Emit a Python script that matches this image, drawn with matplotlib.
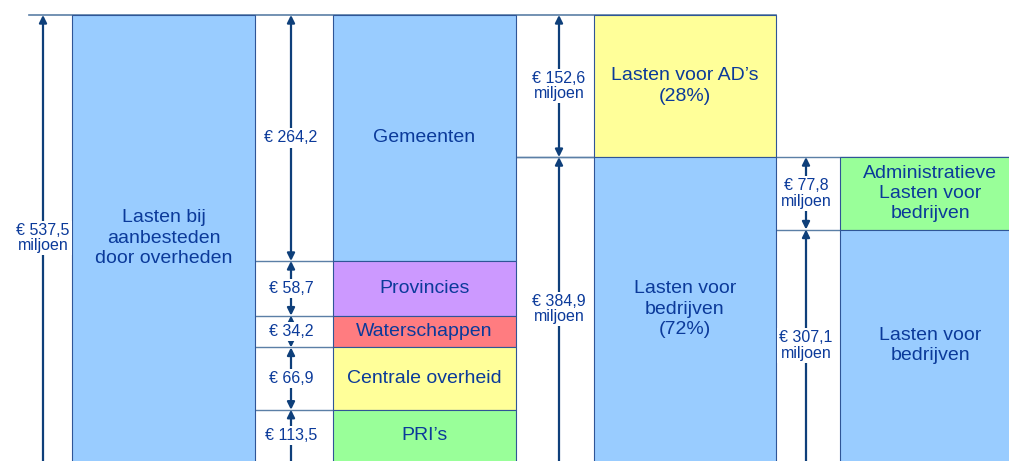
import numpy as np
import matplotlib
matplotlib.use("Agg")
import matplotlib.pyplot as plt

plt.rcParams['font.family'] = ['Liberation Sans', 'DejaVu Sans']

# ---- data ----
total_category = "Lasten bij\naanbesteden\ndoor overheden"
total_value = 537.5
gov_categories = ["Gemeenten", "Provincies", "Waterschappen", "Centrale overheid", "PRI’s"]
gov_values = [264.2, 58.7, 34.2, 66.9, 113.5]
split_categories = ["Lasten voor AD’s\n(28%)", "Lasten voor\nbedrijven\n(72%)"]
split_values = [152.6, 384.9]
bedrijf_categories = ["Administratieve\nLasten voor\nbedrijven", "Lasten voor\nbedrijven"]
bedrijf_values = [77.8, 307.1]

# ---- styles ----
BLUE = "#99CCFF"
gov_colors = [BLUE, "#CC99FF", "#FF7C80", "#FFFF99", "#99FF99"]
split_colors = ["#FFFF99", BLUE]
bedrijf_colors = ["#99FF99", BLUE]
EDGE = "#2F5597"
TXT = "#0B3A9A"
ARW = "#0E3F7A"
SEP = "#5B7FA6"

W, H = 1009, 461
fig = plt.figure(figsize=(W / 100, H / 100), dpi=100)
ax = fig.add_axes([0, 0, 1, 1])
ax.set_axis_off()
px_per_unit = 0.931
top_px = 15
ybot = (H - top_px) / px_per_unit
ytop = -top_px / px_per_unit
ax.set_xlim(0, W)
ax.set_ylim(ybot, ytop)

# layout (x in pixel-like units)
arrow_x = [43, 291, 559, 806]
blocks = [(72, 255), (333, 516), (594, 776), (840, 1020)]


def fmt(v, mil=True):
    s = "€ " + f"{v:.1f}".replace(".", ",")
    return s + "\nmiljoen" if mil else s


def vis_mid(a, b):
    return (a + min(b, ybot)) / 2


def column(block, values, labels, colors, start, ax_x, mil, sep_from):
    x0, x1 = block
    starts = start + np.concatenate([[0], np.cumsum(values)[:-1]])
    ax.bar((x0 + x1) / 2, values, bottom=starts, width=x1 - x0, color=colors,
           edgecolor=EDGE, linewidth=0.8, zorder=2)
    for s0, v, lab in zip(starts, values, labels):
        ax.text((x0 + x1) / 2, vis_mid(s0, s0 + v), lab, ha="center", va="center",
                fontsize=14, color=TXT, linespacing=1.25, zorder=4)
        ax.annotate("", xy=(ax_x, s0 + v), xytext=(ax_x, s0), annotation_clip=False,
                    arrowprops=dict(arrowstyle="<|-|>", color=ARW, lw=1.6,
                                    shrinkA=0, shrinkB=0, mutation_scale=11), zorder=3)
        ax.text(ax_x, vis_mid(s0, s0 + v), fmt(v, mil), ha="center", va="center",
                fontsize=11.5, color=TXT, linespacing=1.05, zorder=4,
                bbox=dict(fc="white", ec="none", pad=1.5))
    # separators
    for b in starts[1:]:
        ax.plot([sep_from, x0], [b, b], color=SEP, lw=1, zorder=1)


# top line
ax.plot([29, blocks[2][1]], [0, 0], color=SEP, lw=1.2, zorder=1)

column(blocks[0], [total_value], [total_category], [BLUE], 0, arrow_x[0], True, 29)
column(blocks[1], gov_values, gov_categories, gov_colors, 0, arrow_x[1], False, blocks[0][1])
column(blocks[2], split_values, split_categories, split_colors, 0, arrow_x[2], True, blocks[1][1])
column(blocks[3], bedrijf_values, bedrijf_categories, bedrijf_colors, split_values[0],
       arrow_x[3], True, blocks[2][1])
# line at top of bedrijven block extending across gap to the right
ax.plot([blocks[1][1], W], [split_values[0], split_values[0]], color=SEP, lw=1, zorder=1)

fig.savefig("out.png", dpi=100)
